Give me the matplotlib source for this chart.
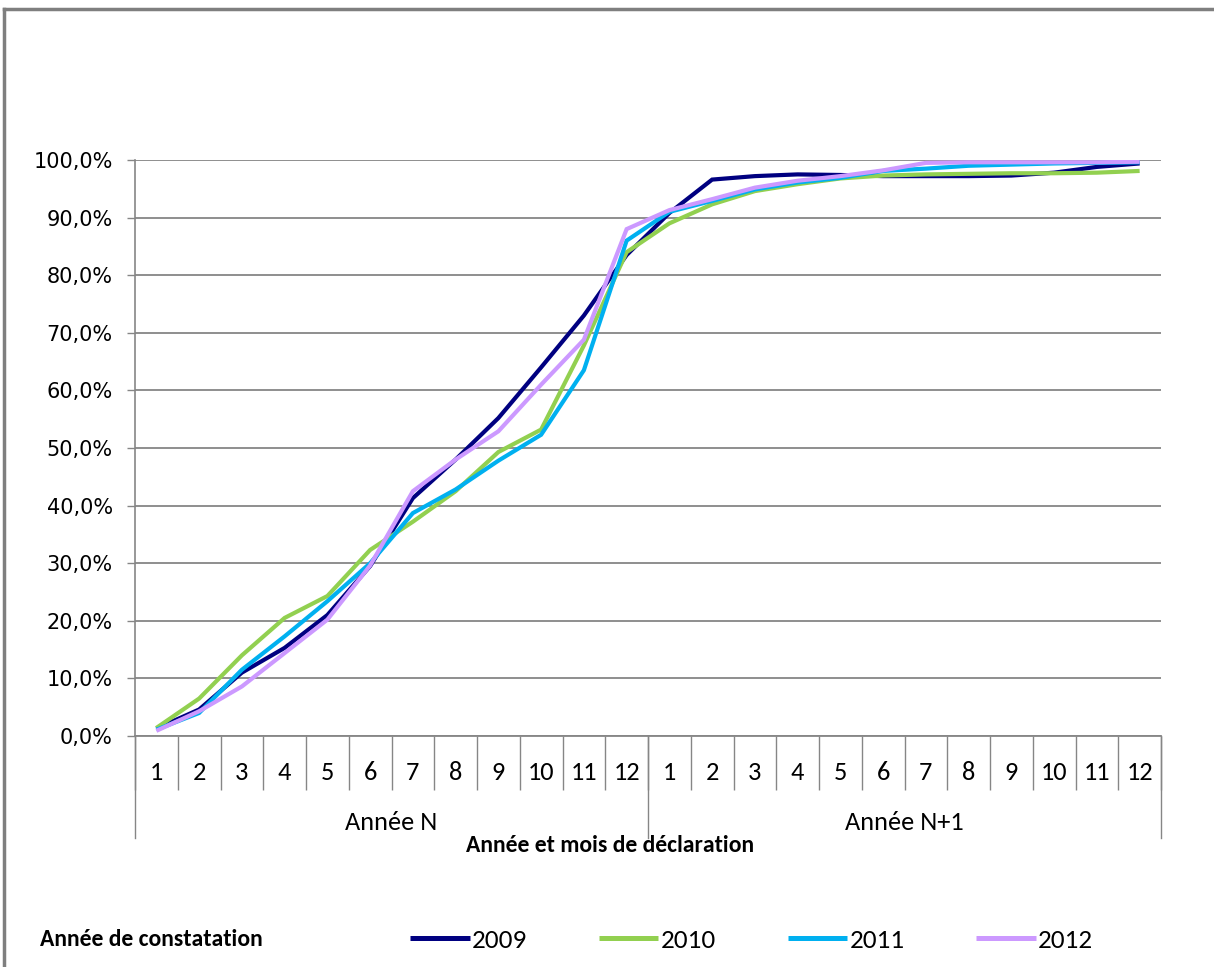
import matplotlib
matplotlib.use("Agg")
import matplotlib.pyplot as plt
from matplotlib.lines import Line2D
import matplotlib.transforms as mtransforms

# Cumulative share of declarations, by month of declaration (year N then N+1)
months = [str(m) for m in range(1, 13)] * 2
years_decl = ["Année N", "Année N+1"]
series_names = ["2009", "2010", "2011", "2012"]

s2009 = [1.3, 4.6, 11.0, 15.3, 21.0, 29.5, 41.3, 48.0, 55.2, 64.0, 73.0, 83.5,
         90.8, 96.6, 97.2, 97.5, 97.4, 97.2, 97.2, 97.2, 97.3, 97.8, 98.8, 99.4]
s2010 = [1.4, 6.5, 14.0, 20.5, 24.3, 32.3, 37.2, 42.5, 49.3, 53.2, 67.8, 84.0,
         89.0, 92.3, 94.6, 95.8, 96.8, 97.3, 97.5, 97.6, 97.7, 97.7, 97.8, 98.1]
s2011 = [1.1, 4.0, 11.5, 17.3, 23.4, 30.0, 38.7, 42.8, 47.8, 52.3, 63.5, 86.0,
         91.0, 92.9, 94.9, 96.1, 96.9, 98.1, 98.5, 99.0, 99.2, 99.4, 99.5, 99.6]
s2012 = [0.9, 4.3, 8.6, 14.4, 20.2, 29.6, 42.5, 48.0, 52.9, 61.0, 68.8, 88.0,
         91.3, 93.2, 95.2, 96.4, 97.2, 98.2, 99.5, 99.6, 99.6, 99.6, 99.6, 99.7]
series = [s2009, s2010, s2011, s2012]
colors = ["#000080", "#92D050", "#00B0F0", "#CC99FF"]

W, H = 1214, 967
fig = plt.figure(figsize=(W / 100, H / 100), dpi=100)
cal = ["Carlito", "DejaVu Sans"]
grey = "#868686"

# plot area in pixels
L, R, T, B = 135, 1161, 160, 736
ax = fig.add_axes([L / W, 1 - B / H, (R - L) / W, (B - T) / H])

x = list(range(len(months)))
for vals, c, name in zip(series, colors, series_names):
    ax.plot(x, [v / 100 for v in vals], color=c, lw=3.0, label=name,
            solid_joinstyle="miter", solid_capstyle="butt", zorder=3)

ax.set_xlim(-0.5, len(months) - 0.5)
ax.set_ylim(0, 1)
yt = [i / 10 for i in range(11)]
ax.set_yticks(yt)
ax.set_yticklabels([f"{int(round(v * 100))},0%" for v in yt],
                   fontsize=15, family="DejaVu Sans")
ax.tick_params(axis="y", length=6, width=1, color=grey, pad=10, direction="out")
ax.grid(axis="y", color=grey, lw=1.3, zorder=1)
ax.set_axisbelow(True)

for s in ["top", "right"]:
    ax.spines[s].set_visible(False)
ax.spines["left"].set_color(grey)
ax.spines["bottom"].set_color(grey)
ax.spines["left"].set_linewidth(1.2)
ax.spines["bottom"].set_linewidth(1.3)

# category axis: month separators as ticks, labels drawn as text
ax.set_xticks([i - 0.5 for i in range(len(months) + 1)])
ax.set_xticklabels([])
ax.tick_params(axis="x", length=(790 - B) * 0.72, width=1, color=grey, direction="out")

trans = mtransforms.blended_transform_factory(ax.transData, ax.transAxes)
for i, m in enumerate(months):
    ax.text(i, -36 / (B - T), m, transform=trans, ha="center", va="center",
            fontsize=19, family=cal)

# year group separators and labels
for xb in [-0.5, 11.5, 23.5]:
    ax.add_line(Line2D([xb, xb], [0, -(838 - B) / (B - T)], transform=trans,
                       color=grey, lw=1, clip_on=False))
for k, lab in enumerate(years_decl):
    ax.text(k * 12 + 5.5, -86 / (B - T), lab, transform=trans, ha="center",
            va="center", fontsize=19, family=cal)

fig.text(610 / W, 1 - 845 / H, "Année et mois de déclaration", ha="center",
         va="center", fontsize=17, fontweight="bold", family=cal)

# legend
fig.text(40 / W, 1 - 940 / H, "Année de constatation", ha="left", va="center",
         fontsize=17, fontweight="bold", family=cal)
leg = fig.legend(loc="center left", bbox_to_anchor=(410 / W, 1 - 940 / H),
                 ncol=4, frameon=False, borderpad=0, borderaxespad=0,
                 handlelength=2.2, handletextpad=0.08, columnspacing=2.65,
                 prop={"family": cal, "size": 19.5})
for h in leg.get_lines():
    h.set_linewidth(3.6)

# outer chart border
fig.add_artist(Line2D([4 / W, 4 / W], [0, 1 - 9 / H], color="#7f7f7f", lw=2.5))
fig.add_artist(Line2D([4 / W, 1], [1 - 9 / H, 1 - 9 / H], color="#7f7f7f", lw=2.5))

fig.savefig("out.png", dpi=100)
